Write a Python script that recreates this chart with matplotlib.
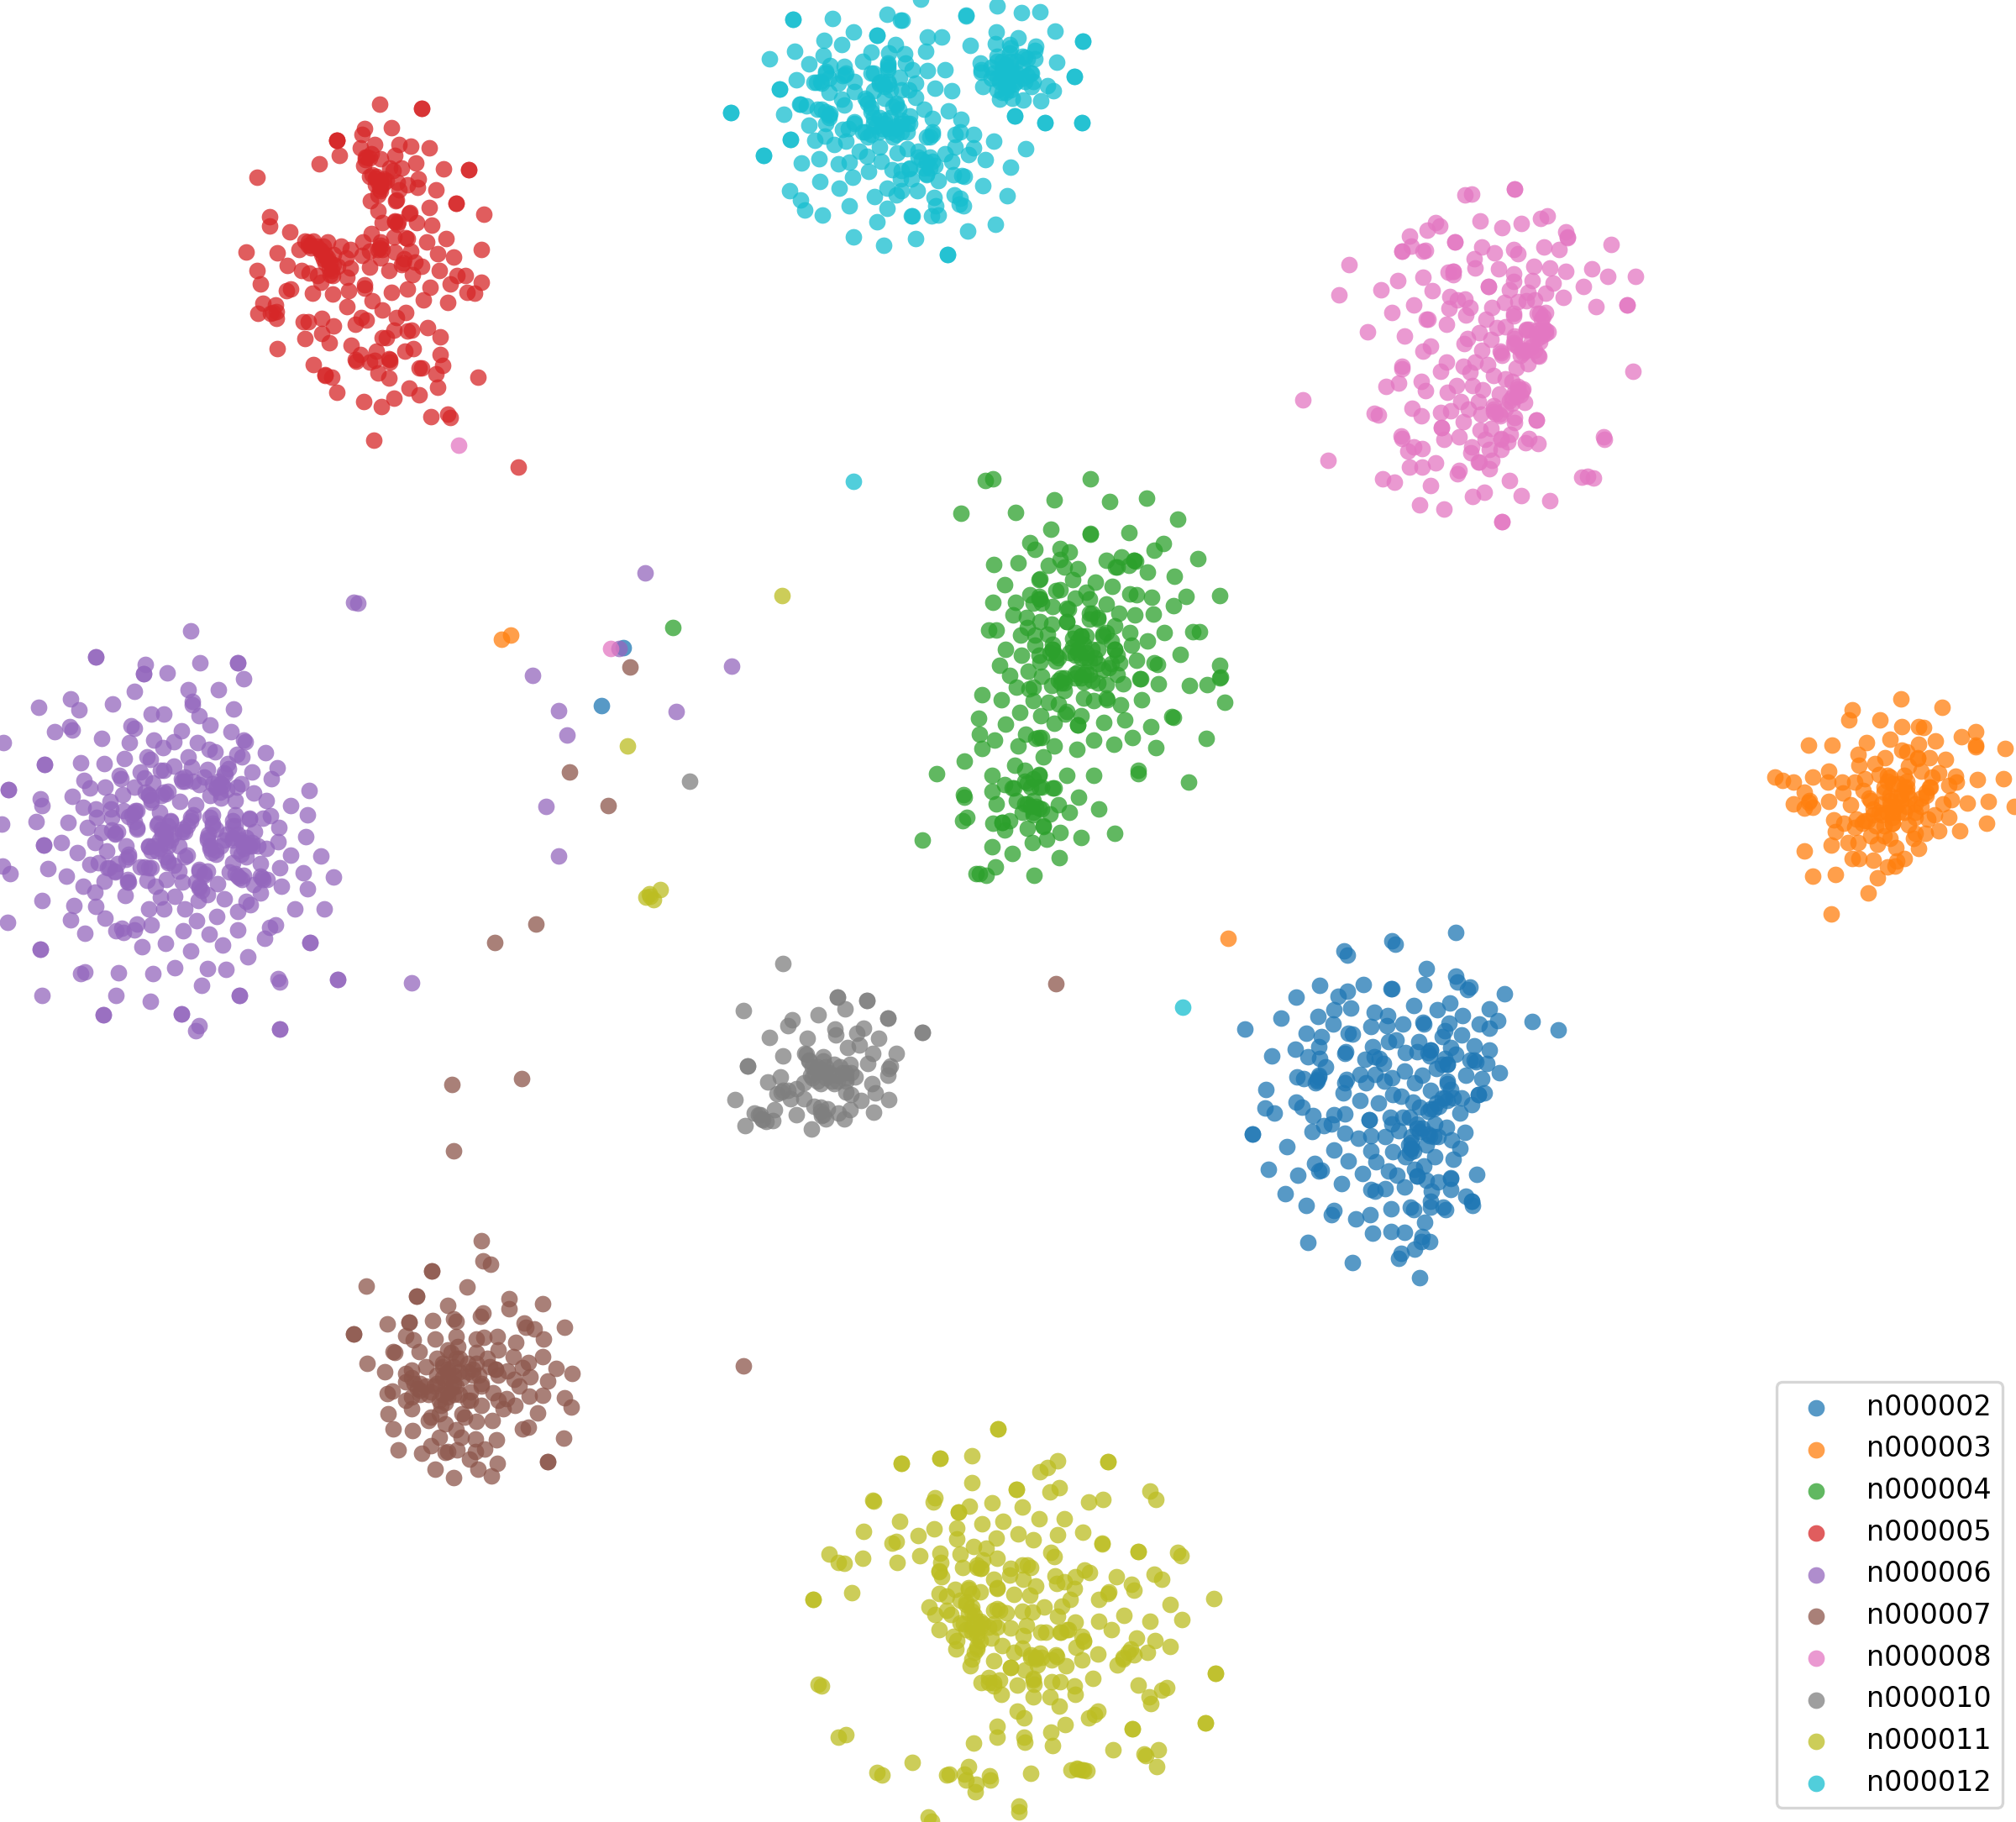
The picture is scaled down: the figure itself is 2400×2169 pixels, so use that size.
import numpy as np
import matplotlib
matplotlib.use("Agg")
import matplotlib.pyplot as plt

# Points are read off 3x crops of the picture; each series has the crop's corner,
# so that map coordinates = corner + crop reading / 3. Extras are direct readings.
labels = ["n000002","n000003","n000004","n000005","n000006","n000007","n000008","n000010","n000011","n000012"]

n000002_corner = (1460,1090)
n000002 = [(820,60),(591,91),(604,102),(420,126),(432,142),(715,188),(818,216),(824,237),(869,256),(860,263),(705,246),(490,246),(589,260),(590,260),(332,249),(433,269),(400,289),(250,291),(993,279),(670,321),(799,312),(444,330),(384,337),(940,333),(528,344),(576,356),(752,336),(194,365),(328,360),(844,357),(381,387),(573,392),(629,388),(703,382),(705,388),(795,385),(902,386),(970,375),(940,402),(1093,377),(65,406),(1186,408),(516,396),(286,421),(338,431),(435,420),(450,424),(580,450),(607,445),(840,425),(770,433),(780,410),(688,449),(329,468),(523,467),(245,478),(885,465),(940,480),(425,487),(423,492),(162,500),(640,490),(680,485),(730,480),(800,470),(820,495),(290,505),(332,510),(495,512),(527,505),(560,527),(545,510),(725,500),(870,515),(890,522),(930,528),(790,530),(353,541),(635,555),(750,545),(975,561),(476,568),(532,568),(700,570),(253,575),(277,582),(330,570),(430,585),(590,580),(325,590),(318,598),(424,597),(498,597),(565,590),(672,598),(790,590),(855,570),(912,581),(142,620),(418,632),(595,638),(625,645),(730,625),(900,640),(920,633),(477,660),(542,670),(248,666),(665,665),(780,650),(840,650),(137,688),(270,685),(171,705),(690,685),(740,690),(875,675),(835,705),(310,714),(385,710),(422,709),(585,720),(630,720),(655,720),(510,728),(510,728),(590,745),(745,745),(785,755),(376,745),(349,751),(305,772),(423,776),(615,768),(680,745),(851,773),(94,781),(94,781),(470,795),(516,786),(567,790),(725,785),(755,788),(660,790),(803,800),(216,825),(384,838),(517,840),(595,843),(660,830),(655,845),(835,830),(715,820),(743,860),(640,860),(810,870),(435,875),(533,880),(314,884),(149,905),(330,912),(338,908),(578,913),(485,921),(680,930),(705,893),(672,905),(610,928),(800,940),(254,927),(893,925),(412,956),(715,945),(755,952),(568,975),(635,970),(515,978),(530,985),(802,978),(211,992),(731,985),(855,1003),(875,1020),(728,1020),(285,1034),(730,1040),(658,1042),(670,1050),(775,1040),(783,1050),(878,1036),(383,1053),(375,1067),(589,1047),(513,1068),(463,1082),(709,1095),(522,1133),(588,1128),(636,1130),(700,1145),(697,1165),(727,1165),(291,1168),(672,1190),(623,1205),(614,1223),(449,1240),(691,1294)]
n000002_core = [(790,600),(800,620),(770,650),(790,660),(810,650),(750,670),(760,680),(730,690),(720,700),(700,760),(720,780),(740,790),(690,770),(680,760),(660,830),(650,820),(670,840),(660,810),(730,480),(720,490),(770,530),(790,530),(780,510),(885,515),(900,640),(325,585),(680,930),(330,575),(800,935),(875,1020)]
n000002_extra = [(742.4,770.5),(716,840)]

n000003_corner = (2090,810)
n000003 = [(520,65),(665,97),(344,106),(334,141),(443,142),(521,166),(581,166),(599,169),(787,183),(735,202),(481,210),(190,230),(273,231),(397,221),(642,217),(582,227),(786,232),(785,238),(890,243),(366,265),(522,250),(540,255),(463,275),(620,275),(678,283),(580,277),(427,297),(368,302),(545,305),(260,323),(440,335),(590,325),(654,329),(69,344),(97,357),(134,362),(204,345),(257,363),(310,362),(353,362),(389,351),(480,345),(530,340),(630,345),(715,343),(717,363),(690,375),(792,354),(884,351),(173,400),(311,403),(385,393),(460,380),(540,380),(625,380),(193,428),(190,435),(134,440),(261,432),(340,445),(405,420),(480,410),(520,410),(610,410),(700,425),(756,438),(831,432),(175,456),(203,452),(925,450),(420,460),(480,450),(540,450),(590,450),(670,440),(280,497),(315,510),(360,495),(390,500),(450,480),(490,490),(570,470),(640,480),(690,489),(825,509),(354,525),(430,520),(490,510),(545,515),(615,495),(284,540),(410,555),(460,555),(480,565),(570,545),(605,545),(655,537),(728,536),(330,578),(365,580),(435,585),(565,565),(269,588),(500,597),(582,600),(175,609),(345,635),(370,635),(420,642),(532,637),(505,645),(470,667),(498,663),(204,700),(286,693),(436,704),(403,758),(271,833)]
n000003_core = [(470,360),(490,370),(510,370),(530,380),(540,400),(520,430),(500,420),(480,430),(460,400),(450,440),(470,470),(490,470),(510,470),(530,470),(550,420),(570,440),(590,420),(610,400),(440,470),(420,480),(400,500),(380,510),(410,430),(580,280),(540,360),(470,340),(490,510),(620,380),(570,490),(500,450),(460,520)]
n000003_extra = [(597,761),(607.6,756),(1462,1117)]

n000004_corner = (1080,550)
n000004 = [(280,67),(306,60),(655,60),(525,135),(722,140),(855,128),(191,183),(388,180),(966,204),(512,239),(655,258),(655,255),(793,251),(437,288),(455,312),(547,308),(580,320),(915,290),(883,316),(309,365),(397,361),(710,350),(765,338),(810,350),(815,355),(1039,346),(545,348),(503,370),(560,375),(608,380),(745,375),(750,375),(793,370),(859,392),(953,409),(475,417),(590,420),(470,420),(672,430),(349,438),(733,444),(545,457),(530,458),(1117,478),(795,472),(818,474),(872,482),(996,480),(306,500),(388,501),(437,474),(450,505),(475,490),(480,505),(520,515),(570,522),(600,485),(640,465),(650,490),(710,507),(950,512),(378,545),(427,556),(475,570),(650,540),(680,555),(757,540),(812,546),(878,543),(290,599),(318,599),(428,590),(405,617),(455,618),(515,580),(570,570),(740,585),(795,608),(918,609),(1020,606),(1043,605),(352,668),(455,655),(500,615),(620,620),(590,630),(700,615),(730,640),(800,655),(857,639),(407,691),(470,690),(520,670),(610,680),(640,700),(680,670),(740,670),(974,686),(329,727),(475,715),(530,710),(720,735),(760,718),(818,708),(883,716),(893,724),(1116,725),(432,746),(480,765),(365,763),(550,770),(600,755),(650,760),(750,760),(830,775),(835,775),(1117,770),(1118,768),(390,803),(435,810),(450,803),(515,797),(560,790),(630,785),(680,790),(710,795),(772,793),(897,791),(1009,799),(1071,796),(268,832),(335,850),(450,853),(505,857),(560,815),(630,843),(665,853),(710,843),(715,850),(763,868),(836,848),(1134,859),(540,865),(402,894),(565,900),(620,905),(478,905),(256,916),(944,908),(950,912),(352,937),(525,934),(609,940),(701,931),(777,922),(871,945),(259,973),(424,973),(480,985),(460,988),(311,993),(397,1015),(524,1013),(667,994),(738,1009),(803,985),(1067,988),(268,1022),(607,1025),(889,1021),(487,1052),(203,1067),(383,1083),(420,1100),(106,1112),(825,1100),(825,1112),(302,1119),(569,1119),(665,1120),(470,1115),(430,1145),(347,1152),(380,1165),(525,1165),(480,1160),(1005,1143),(202,1187),(204,1196),(302,1177),(611,1197),(317,1222),(390,1210),(430,1220),(470,1235),(540,1223),(684,1239),(410,1250),(450,1260),(510,1258),(579,1251),(213,1270),(197,1280),(305,1291),(340,1288),(365,1282),(348,1315),(429,1309),(487,1303),(545,1324),(740,1326),(621,1340),(497,1348),(55,1350),(448,1358),(302,1374),(375,1399),(544,1412),(315,1445),(247,1469),(257,1469),(283,1477),(453,1476)]
n000004_core = [(600,610),(620,620),(640,620),(610,640),(630,650),(590,660),(610,670),(640,680),(660,670),(670,700),(650,710),(620,700),(600,690),(580,680),(520,670),(530,690),(510,680),(540,700),(520,650),(740,670),(750,690),(730,720),(700,620),(710,610),(680,560),(660,540),(650,560),(570,570),(575,525),(560,770),(550,790),(540,780),(610,750),(600,770),(630,760),(640,750),(620,770),(660,780),(680,720),(700,740),(570,890),(610,940),(420,1140),(450,1130),(470,1120),(470,1160),(440,1160),(450,1210),(460,1230),(480,1240),(440,1230),(420,1220),(450,1250),(520,1165),(375,1165),(340,1288),(485,1300),(470,985),(810,350),(470,490),(470,480)]
n000004_extra = [(801,747)]

n000005_corner = (270,100)
n000005 = [(545,73),(695,87),(493,158),(484,180),(588,157),(392,201),(392,200),(529,217),(476,227),(615,216),(658,221),(723,228),(401,254),(330,285),(600,254),(496,262),(510,265),(550,268),(676,281),(490,290),(108,334),(775,304),(864,305),(582,300),(595,310),(625,300),(510,330),(530,335),(560,340),(540,350),(550,365),(685,338),(645,360),(680,370),(610,350),(615,378),(747,379),(540,395),(513,418),(604,416),(818,426),(723,442),(539,452),(652,462),(918,464),(154,475),(152,508),(554,495),(600,492),(612,492),(677,495),(731,505),(226,528),(517,535),(597,546),(645,553),(782,551),(278,560),(310,560),(360,563),(290,575),(258,590),(69,601),(179,603),(487,564),(550,565),(715,565),(408,580),(442,590),(545,585),(555,590),(300,585),(330,590),(340,610),(360,620),(658,596),(752,606),(910,592),(810,617),(484,613),(425,620),(510,597),(548,622),(600,600),(632,625),(625,645),(217,648),(350,640),(380,645),(108,665),(268,665),(295,675),(442,658),(395,650),(510,653),(579,666),(672,635),(695,652),(663,680),(758,665),(120,714),(325,685),(337,708),(378,685),(428,690),(822,685),(851,685),(797,714),(908,708),(491,717),(491,730),(228,733),(213,739),(307,747),(378,750),(434,738),(588,745),(644,732),(726,726),(859,744),(886,748),(129,784),(175,789),(702,771),(790,779),(520,775),(430,795),(554,807),(110,820),(157,820),(178,812),(176,838),(638,817),(606,834),(273,848),(290,848),(340,836),(380,864),(481,833),(497,843),(458,857),(338,892),(718,870),(597,880),(645,882),(660,878),(556,905),(570,905),(762,904),(279,909),(365,925),(443,933),(181,945),(635,954),(665,944),(534,953),(478,965),(460,985),(462,990),(510,993),(527,988),(582,985),(582,992),(763,967),(772,1004),(308,1001),(688,1015),(695,1013),(747,1034),(539,1031),(351,1039),(376,1047),(579,1050),(896,1046),(650,1085),(752,1083),(392,1100),(688,1111),(597,1123),(489,1135),(551,1151),(728,1189),(788,1180),(797,1190),(525,1271)]
n000005_core = [(290,565),(300,575),(320,580),(335,595),(350,610),(345,625),(360,630),(370,640),(375,665),(370,680),(365,660),(380,610),(345,580),(500,260),(495,270),(515,250),(520,325),(535,330),(550,345),(560,355),(570,345),(545,375),(530,360),(550,380),(540,590),(550,575),(640,550),(630,640),(165,815),(350,1040),(580,980),(605,415),(655,460),(600,490),(610,500),(392,200),(695,87),(864,305),(818,426)]
n000005_extra = [(616.5,556.4)]

n000006_corner = (0,730)
n000006 = [(680,62),(341,155),(519,183),(514,217),(514,217),(596,212),(714,178),(849,176),(870,235),(479,280),(671,274),(781,274),(253,307),(282,346),(137,337),(403,324),(688,314),(687,328),(833,341),(540,361),(586,359),(711,367),(749,398),(194,423),(250,405),(259,416),(364,447),(469,403),(480,411),(647,421),(825,424),(869,452),(875,458),(12,463),(463,461),(548,454),(621,458),(581,481),(705,462),(748,487),(767,494),(949,497),(845,505),(865,512),(672,512),(526,513),(536,522),(445,520),(159,540),(288,535),(371,538),(620,545),(814,537),(989,553),(899,568),(970,592),(573,560),(585,562),(500,568),(425,578),(685,550),(742,557),(648,590),(660,600),(516,588),(431,590),(300,598),(320,624),(376,622),(480,622),(30,631),(545,605),(730,585),(710,612),(800,570),(775,620),(790,610),(860,608),(845,620),(905,641),(258,655),(145,664),(150,688),(392,672),(437,647),(530,648),(590,645),(540,675),(643,672),(700,685),(750,650),(790,660),(840,670),(951,669),(1104,632),(1037,687),(298,693),(342,700),(345,730),(395,700),(440,705),(484,706),(400,730),(570,710),(680,730),(760,720),(840,720),(890,733),(940,733),(966,722),(1098,719),(130,743),(5,753),(244,748),(312,765),(490,770),(560,755),(610,745),(760,760),(830,760),(910,780),(997,765),(1091,798),(362,782),(411,786),(580,790),(650,780),(740,800),(830,800),(870,820),(992,817),(219,820),(155,827),(340,820),(450,830),(530,835),(590,820),(640,830),(750,840),(800,810),(900,830),(950,840),(1038,865),(1145,868),(276,855),(382,850),(460,870),(560,850),(670,865),(770,860),(860,860),(10,903),(36,930),(172,911),(320,897),(350,892),(390,910),(420,895),(500,905),(540,910),(600,890),(710,915),(830,890),(930,895),(998,910),(1082,926),(1192,941),(236,938),(410,925),(640,920),(730,935),(850,940),(865,950),(935,945),(955,950),(372,958),(455,960),(525,955),(595,950),(650,960),(777,966),(1004,975),(1098,983),(297,975),(339,995),(555,975),(710,980),(905,970),(446,1007),(573,1013),(624,1012),(741,1005),(800,1020),(930,1000),(708,1025),(880,1030),(895,1040),(149,1025),(264,1045),(341,1047),(531,1055),(586,1056),(659,1056),(850,1065),(1052,1055),(1157,1057),(376,1088),(251,1095),(27,1103),(703,1098),(775,1083),(983,1112),(490,1110),(540,1112),(436,1125),(415,1135),(440,1140),(480,1130),(302,1142),(653,1135),(850,1131),(963,1123),(748,1146),(945,1162),(145,1200),(508,1192),(590,1180),(681,1205),(795,1184),(1108,1175),(886,1227),(303,1280),(287,1287),(424,1285),(545,1287),(625,1267),(741,1268),(806,1271),(994,1305),(998,1318),(1205,1309),(1471,1319),(720,1329),(149,1366),(415,1364),(536,1386),(854,1366),(368,1433),(648,1430),(710,1473),(700,1492),(998,1486)]
n000006_core = [(780,600),(770,625),(795,615),(810,630),(760,610),(785,640),(815,555),(805,575),(660,585),(650,600),(690,600),(530,650),(540,665),(575,650),(585,640),(520,640),(600,635),(480,710),(470,720),(460,725),(490,705),(410,790),(400,775),(420,780),(490,765),(480,745),(565,750),(575,770),(590,780),(600,760),(610,740),(620,790),(590,800),(570,810),(550,830),(530,830),(540,850),(570,840),(600,830),(610,810),(660,780),(670,760),(680,740),(690,720),(650,770),(750,730),(760,750),(770,770),(745,790),(740,810),(750,830),(770,845),(790,830),(755,855),(810,790),(830,810),(850,790),(860,810),(880,800),(890,830),(870,840),(900,820),(850,850),(880,870),(920,830),(840,760),(830,740),(890,735),(820,925),(840,930),(855,945),(870,935),(930,940),(940,950),(710,920),(730,930),(740,920),(710,975),(720,990),(700,960),(660,870),(600,885),(590,870),(620,900),(460,860),(450,880),(460,960),(455,950),(530,910),(515,905),(385,910),(410,920),(341,155),(849,176),(159,540),(30,631),(155,827),(145,1200),(368,1433),(648,1430),(998,1486),(1108,1175),(854,1366),(1205,1309)]
n000006_extra = [(768,682),(420.5,717),(426,718),(633.5,804),(665,846),(674.5,875),(804.5,847),(871,793),(650.4,960),(665,1019),(737,772)]

n000007_corner = (400,1460)
n000007 = [(519,52),(524,124),(551,134),(343,160),(108,214),(467,215),(289,250),(619,257),(617,295),(738,277),(398,281),(524,308),(515,320),(421,330),(428,340),(346,336),(260,342),(184,349),(62,383),(672,344),(678,361),(709,367),(816,361),(250,390),(275,405),(355,402),(428,393),(502,403),(528,395),(576,392),(641,415),(742,403),(205,446),(210,450),(298,446),(360,470),(400,440),(435,430),(500,450),(580,440),(632,465),(737,466),(110,488),(173,518),(270,512),(320,500),(380,490),(430,470),(470,490),(540,470),(570,510),(687,485),(665,505),(787,508),(843,526),(250,525),(300,560),(360,530),(400,520),(490,530),(580,530),(612,515),(693,537),(755,552),(250,555),(300,585),(350,570),(420,560),(520,570),(635,545),(655,570),(200,588),(182,598),(270,610),(330,600),(400,590),(440,600),(560,595),(690,605),(739,602),(817,611),(840,646),(250,620),(270,650),(375,640),(470,620),(580,620),(610,615),(640,640),(598,650),(520,640),(370,670),(460,680),(721,667),(187,670),(330,692),(390,705),(500,695),(558,693),(205,723),(272,730),(430,725),(665,723),(688,718),(370,752),(448,752),(497,758),(572,762),(813,755),(339,783),(223,797),(307,810),(390,807),(432,797),(400,805),(530,795),(497,805),(477,830),(577,847),(756,841),(353,867),(506,866),(556,890),(421,897)]
n000007_core = [(380,500),(400,510),(420,500),(400,540),(380,540),(420,530),(440,520),(360,560),(390,570),(410,580),(430,570),(380,600),(400,610),(420,600),(370,620),(390,630),(280,560),(290,580),(270,540),(300,600),(320,570),(340,590),(470,520),(490,510),(510,530),(500,490),(450,540),(440,470),(410,450),(520,560),(480,590),(570,510),(550,500),(480,620),(450,670),(340,680),(62,383),(756,841),(260,342),(343,160),(289,250)]
n000007_extra = [(750.4,793.5),(677.7,919),(724,959),(637.5,1099.5),(589,1122),(537.5,1290.6),(621,1284),(540,1370),(1257,1171),(885,1625.5)]

n000008_corner = (1530,200)
n000008 = [(820,75),(641,95),(667,92),(911,180),(937,170),(696,189),(775,212),(842,199),(536,195),(551,208),(506,222),(1003,229),(1007,248),(444,244),(605,265),(450,280),(418,296),(491,298),(502,294),(701,281),(747,302),(817,290),(832,305),(924,282),(978,292),(1163,274),(228,344),(675,323),(679,358),(762,360),(888,350),(946,357),(1002,368),(1094,359),(1152,387),(1251,388),(582,373),(600,370),(601,380),(817,377),(815,405),(881,401),(492,391),(401,402),(957,411),(1065,422),(341,436),(193,452),(526,439),(726,424),(800,435),(866,443),(930,448),(992,461),(587,458),(615,472),(642,469),(660,497),(586,501),(644,525),(459,489),(738,497),(782,481),(830,478),(860,475),(890,470),(1111,495),(1220,490),(380,517),(510,541),(505,541),(815,527),(816,520),(900,520),(930,517),(915,540),(716,541),(577,558),(757,570),(785,568),(293,584),(860,577),(900,580),(930,590),(940,585),(694,587),(425,600),(735,611),(818,610),(650,610),(638,628),(820,630),(880,620),(900,610),(519,635),(492,653),(703,652),(768,655),(775,670),(845,650),(860,650),(904,670),(575,694),(635,708),(677,693),(723,703),(868,700),(825,715),(418,709),(418,716),(1243,727),(556,726),(659,729),(743,740),(785,753),(810,762),(487,761),(404,767),(361,779),(613,778),(669,776),(704,792),(501,796),(579,800),(830,790),(845,795),(765,808),(825,815),(62,827),(626,833),(690,833),(810,840),(855,837),(454,859),(655,861),(745,860),(750,875),(785,860),(319,877),(333,882),(485,886),(592,866),(555,874),(700,880),(768,885),(820,890),(820,910),(898,899),(637,905),(557,927),(415,958),(418,965),(695,935),(735,930),(805,950),(770,965),(715,970),(621,961),(566,969),(870,965),(859,980),(902,983),(1136,960),(1140,970),(460,995),(490,1001),(438,1010),(665,995),(730,1005),(772,1005),(795,978),(664,1017),(154,1044),(737,1045),(692,1050),(536,1052),(443,1069),(490,1067),(729,1075),(620,1080),(615,1093),(347,1110),(390,1122),(800,1115),(1060,1104),(1080,1102),(1100,1106),(520,1133),(710,1157),(668,1174),(842,1171),(946,1188),(480,1203),(568,1218),(775,1262)]
n000008_core = [(910,520),(920,530),(860,580),(870,575),(900,590),(915,600),(930,580),(920,570),(910,620),(880,640),(890,650),(820,600),(815,625),(830,640),(850,660),(840,670),(770,660),(905,672),(820,800),(830,780),(810,820),(840,810),(850,790),(800,830),(745,850),(745,870),(765,880),(770,970),(690,1050),(1007,245),(600,370),(820,75),(775,1262),(726,424),(1220,490),(418,296),(605,265),(898,899),(557,927)]
n000008_extra = [(546,530),(727,772)]

n000010_corner = (850,1130)
n000010 = [(245,51),(442,170),(546,184),(468,213),(105,219),(621,245),(372,233),(278,252),(265,272),(743,297),(431,285),(535,282),(510,300),(436,305),(198,316),(334,318),(589,319),(519,343),(478,350),(650,372),(323,373),(245,381),(566,371),(390,385),(340,395),(121,417),(487,412),(548,407),(630,418),(625,425),(430,410),(370,420),(345,450),(400,440),(440,450),(470,440),(505,455),(620,450),(236,456),(193,473),(380,480),(430,480),(470,470),(563,480),(320,478),(295,498),(265,503),(240,510),(225,515),(470,510),(575,513),(490,520),(75,538),(273,535),(322,533),(525,540),(624,536),(357,560),(380,565),(405,570),(217,572),(487,572),(569,581),(145,586),(165,590),(293,592),(445,585),(385,595),(400,605),(170,605),(185,615),(210,612),(110,629),(466,605),(347,641)]
n000010_core = [(340,400),(350,420),(330,375),(390,400),(380,430),(360,440),(400,460),(420,470),(440,470),(460,440),(470,460),(490,440),(450,420),(400,420),(370,470),(410,440),(350,460),(160,590),(175,610),(380,580),(390,590),(245,505),(442,170),(546,184),(621,245),(743,297),(121,417)]
n000010_extra = [(820.5,930)]

n000011_corner = (950,1660)
n000011 = [(713,122),(368,245),(508,228),(622,220),(864,275),(890,262),(926,236),(1106,241),(620,314),(932,333),(899,347),(779,340),(1258,345),(1277,376),(268,378),(270,380),(488,368),(484,384),(613,398),(693,386),(801,403),(1038,384),(1089,375),(574,421),(860,445),(950,443),(362,454),(733,452),(233,488),(430,503),(486,479),(566,477),(657,463),(787,497),(928,502),(1017,491),(350,526),(337,530),(566,517),(707,514),(839,520),(1086,532),(1086,534),(1216,561),(1355,563),(1367,575),(110,570),(231,585),(434,576),(507,567),(628,542),(672,548),(903,564),(916,579),(145,601),(165,604),(355,600),(580,570),(511,600),(660,590),(711,586),(587,619),(640,618),(655,620),(505,632),(512,650),(800,610),(830,618),(760,620),(1022,628),(1040,636),(193,708),(53,732),(918,648),(990,652),(1137,652),(1271,642),(1299,659),(700,660),(755,645),(805,660),(850,683),(923,676),(950,670),(987,694),(1192,677),(1200,700),(1111,705),(1108,712),(1075,732),(505,712),(560,695),(610,695),(652,705),(712,693),(770,715),(828,717),(1485,729),(972,733),(530,720),(580,735),(600,750),(878,759),(942,757),(1329,750),(469,758),(490,785),(530,770),(620,775),(710,765),(745,780),(800,775),(838,778),(928,791),(545,785),(1165,788),(1073,810),(1257,811),(1370,804),(990,812),(578,815),(650,810),(710,830),(760,835),(815,825),(1118,839),(505,840),(866,850),(885,848),(935,850),(965,840),(620,850),(640,865),(690,870),(805,860),(1208,870),(555,863),(567,880),(1015,865),(1020,883),(1274,879),(730,897),(993,903),(1328,899),(565,908),(640,910),(770,920),(800,905),(1188,910),(1070,926),(1249,920),(865,925),(830,930),(925,935),(905,948),(850,945),(620,945),(700,950),(1200,930),(1160,945),(1140,965),(1015,948),(958,968),(616,968),(760,976),(810,985),(855,965),(1052,1013),(840,1015),(680,1010),(655,1030),(720,1020),(700,1040),(843,1035),(905,1027),(937,1026),(784,1037),(987,1042),(72,1035),(83,1040),(1215,1038),(1316,1047),(1300,1057),(726,1072),(839,1080),(899,1080),(991,1071),(1255,1080),(1259,1103),(932,1112),(783,1131),(807,1154),(1070,1132),(1060,1143),(1039,1155),(955,1180),(710,1186),(1195,1195),(1456,1172),(1492,995),(172,1216),(145,1224),(902,1205),(807,1225),(811,1241),(711,1225),(626,1246),(909,1254),(1126,1269),(1288,1268),(1235,1283),(1242,1289),(1281,1329),(409,1314),(282,1350),(300,1358),(608,1330),(541,1357),(530,1358),(595,1355),(600,1377),(685,1362),(688,1378),(635,1392),(632,1420),(830,1354),(975,1341),(995,1335),(1015,1340),(1033,1343),(790,1470),(790,1490),(464,1508),(478,1525)]
n000011_core = [(600,740),(620,760),(610,780),(630,790),(640,810),(650,830),(660,820),(680,830),(700,820),(640,850),(650,880),(640,900),(630,920),(620,830),(590,820),(600,840),(710,690),(720,770),(700,770),(650,620),(640,610),(820,610),(850,940),(830,940),(870,940),(920,930),(840,1020),(700,1030),(680,1030),(760,975),(960,840),(940,850),(1180,920),(1160,940),(1020,880),(505,630),(610,690),(620,710),(1000,1338),(1020,1340),(713,122),(368,245),(508,228),(1106,241),(779,340),(53,732),(1492,995),(1456,1172),(1195,1195),(1216,561),(574,421)]
n000011_extra = [(931,708.5),(747,888),(769,1068),(786,1059),(774,1067),(778,1071),(773,1064)]

n000012_corner = (840,0)
n000012 = [(769,-2),(1041,21),(313,68),(452,65),(649,52),(695,72),(702,72),(930,55),(930,57),(1127,46),(1194,42),(1247,110),(1347,146),(1348,146),(529,114),(612,125),(612,125),(422,143),(485,159),(792,132),(843,132),(1037,114),(1116,135),(1036,156),(946,162),(1086,160),(1180,164),(787,184),(677,158),(591,187),(655,190),(710,192),(317,184),(229,210),(420,198),(369,228),(560,218),(715,225),(650,232),(1254,221),(1175,180),(1040,200),(980,225),(1140,205),(1175,210),(445,235),(495,237),(430,255),(497,268),(737,249),(792,252),(854,249),(985,257),(1020,240),(1060,250),(1090,220),(1130,240),(1316,274),(590,260),(650,250),(692,275),(323,284),(388,293),(415,297),(1070,280),(1110,290),(1160,260),(1165,310),(989,309),(1221,305),(1243,324),(475,297),(530,290),(620,295),(655,300),(750,297),(264,318),(440,330),(530,328),(600,325),(700,320),(725,320),(820,316),(880,324),(1040,320),(1080,310),(1050,355),(1095,352),(1133,358),(1198,361),(340,371),(336,371),(360,378),(575,358),(485,355),(750,348),(680,375),(640,350),(415,390),(400,390),(495,375),(590,385),(780,390),(867,397),(279,408),(443,405),(1103,414),(1211,439),(1344,439),(90,403),(90,403),(810,424),(912,426),(600,420),(730,415),(530,435),(440,420),(430,440),(369,448),(640,440),(700,440),(730,440),(490,462),(560,470),(620,470),(680,460),(720,470),(810,480),(890,480),(910,470),(800,490),(956,480),(425,487),(302,498),(389,501),(500,505),(460,515),(580,490),(670,490),(1030,505),(890,524),(958,529),(1142,532),(622,525),(720,530),(685,545),(550,540),(575,558),(760,540),(855,548),(940,553),(207,555),(343,583),(406,566),(475,585),(513,580),(628,575),(770,570),(810,575),(800,600),(880,575),(1000,570),(1088,597),(665,605),(727,602),(582,611),(525,632),(885,625),(915,627),(925,630),(790,625),(695,640),(735,640),(832,645),(407,648),(478,672),(989,664),(300,680),(648,673),(680,697),(700,680),(757,681),(887,697),(910,708),(1078,699),(338,714),(603,701),(815,705),(920,735),(905,730),(513,736),(821,735),(355,750),(648,744),(417,767),(735,770),(738,772),(808,770),(830,767),(612,792),(1036,801),(937,825),(528,847),(749,851),(637,877),(864,910)]
n000012_core = [(430,260),(410,290),(395,295),(440,280),(490,270),(500,260),(600,260),(630,290),(650,290),(640,310),(660,320),(620,300),(650,225),(650,240),(570,350),(580,370),(590,400),(600,440),(620,420),(640,430),(660,420),(680,370),(690,390),(670,380),(700,430),(680,450),(650,460),(630,460),(610,450),(570,470),(590,480),(530,440),(510,460),(440,410),(430,400),(700,470),(720,440),(680,480),(660,470),(760,560),(790,580),(800,560),(820,590),(780,600),(790,620),(810,470),(790,490),(700,610),(730,600),(1040,220),(1060,220),(1090,170),(1085,190),(1060,260),(1080,260),(1100,270),(1050,290),(1070,300),(1090,320),(1110,260),(1130,280),(1140,290),(1150,270),(1170,290),(1130,200),(1150,210),(1070,330),(1060,330),(1030,260),(1020,280),(1090,240),(1110,220),(1070,230),(1040,280),(1100,300),(985,250),(1165,260),(313,68),(207,555),(302,498),(864,910),(1344,439),(1316,274),(1103,414),(1211,439),(264,318)]
n000012_extra = [(1015.6,573),(1408,1198.5)]

series = [
    (n000002_corner, n000002 + n000002_core, n000002_extra),
    (n000003_corner, n000003 + n000003_core, n000003_extra),
    (n000004_corner, n000004 + n000004_core, n000004_extra),
    (n000005_corner, n000005 + n000005_core, n000005_extra),
    (n000006_corner, n000006 + n000006_core, n000006_extra),
    (n000007_corner, n000007 + n000007_core, n000007_extra),
    (n000008_corner, n000008 + n000008_core, n000008_extra),
    (n000010_corner, n000010 + n000010_core, n000010_extra),
    (n000011_corner, n000011 + n000011_core, n000011_extra),
    (n000012_corner, n000012 + n000012_core, n000012_extra),
]

fig = plt.figure(figsize=(10, 2169/240), dpi=240)
ax = fig.add_axes([0, 0, 1, 1])
ax.set_xlim(0, 2400)
ax.set_ylim(2169, 0)
ax.axis("off")

for i, (label, (corner, pts, extra)) in enumerate(zip(labels, series)):
    p = np.array(corner) + np.array(pts) / 3.0
    p = np.vstack([p, np.array(extra)])
    ax.scatter(p[:, 0], p[:, 1], s=35, color=f"C{i}", alpha=0.75, linewidths=0, label=label)

ax.legend(loc="lower right", bbox_to_anchor=(2384, 2152), bbox_transform=ax.transData, borderaxespad=0)
fig.savefig("out.png", dpi=240)
